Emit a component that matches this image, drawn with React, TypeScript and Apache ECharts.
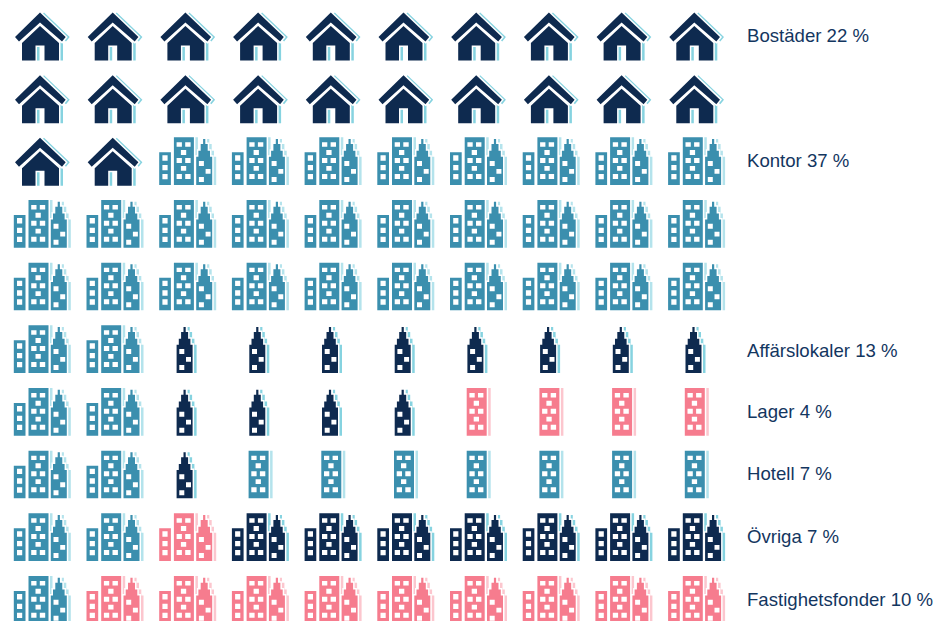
import React, { useEffect, useRef } from "react";
import * as echarts from "echarts";

// Category labels shown at the right, one per row ("" = no label)
const rowLabels = [
  "Bostäder 22 %",
  "",
  "Kontor 37 %",
  "",
  "",
  "Affärslokaler 13 %",
  "Lager 4 %",
  "Hotell 7 %",
  "Övriga 7 %",
  "Fastighetsfonder 10 %",
];

// One letter per icon: B Bostäder, K Kontor, A Affärslokaler, L Lager, H Hotell, O Övriga, F Fastighetsfonder
const rowIcons = [
  "BBBBBBBBBB",
  "BBBBBBBBBB",
  "BBKKKKKKKK",
  "KKKKKKKKKK",
  "KKKKKKKKKK",
  "KKAAAAAAAA",
  "KKAAAALLLL",
  "KKAHHHHHHH",
  "KKFOOOOOOO",
  "KFFFFFFFFF",
];

const categories = [
  { key: "B", name: "Bostäder", icon: "house", fill: "#0e2a4f", shade: "#86d3e0" },
  { key: "K", name: "Kontor", icon: "city", fill: "#3b8fae", shade: "#b4e3ec" },
  { key: "A", name: "Affärslokaler", icon: "tower", fill: "#0e2a4f", shade: "#86d3e0" },
  { key: "L", name: "Lager", icon: "block", fill: "#f67c8e", shade: "#fcc6ce" },
  { key: "H", name: "Hotell", icon: "block", fill: "#3b8fae", shade: "#b4e3ec" },
  { key: "O", name: "Övriga", icon: "city", fill: "#0e2a4f", shade: "#86d3e0" },
  { key: "F", name: "Fastighetsfonder", icon: "city", fill: "#f67c8e", shade: "#fcc6ce" },
];

const rect = (x0: number, y0: number, x1: number, y1: number) =>
  `M${x0},${y0}L${x1},${y0}L${x1},${y1}L${x0},${y1}Z`;

const towerBody = (d: number) =>
  `M${d + 6.9},-21.3L${d + 9.1},-21.3L${d + 9.1},-16.3L${d + 11.5},-16.3L${d + 11.5},-9.6L${d + 13.8},-9.6L${d + 13.8},-3.6L${d + 16},-3.6L${d + 16},24.7L${d},24.7L${d},-3.6L${d + 2.2},-3.6L${d + 2.2},-9.6L${d + 4.5},-9.6L${d + 4.5},-16.3L${d + 6.9},-16.3Z`;
const blockBody = (d: number) => rect(d, -23, d + 20, 24.7);
const towerWins = (d: number) =>
  rect(d + 2.7, 0.7, d + 7.7, 5.7) + rect(d + 9.4, 8.7, d + 14.4, 13.5) + rect(d + 2.7, 16.7, d + 7.7, 21.7);
const blockWins = (d: number) =>
  rect(d + 2.7, -18, d + 8, -13.6) + rect(d + 11.3, -18, d + 16.7, -13.6) +
  rect(d + 7, -10.3, d + 12.3, -5.3) +
  rect(d + 2.7, -2.3, d + 8, 2.7) + rect(d + 11.3, -2.3, d + 16.7, 2.7) +
  rect(d + 7, 5.7, d + 12.3, 10.4) +
  rect(d + 2.7, 13.7, d + 8, 18.7) + rect(d + 11.3, 13.7, d + 16.7, 18.7);

const bodies: Record<string, string> = {
  house:
    "M-1,-22.5L24.7,2L21,6.5L-1,-12.5L-22,6.5L-26,2Z" +
    "M-1,-9L18,8L18,25.5L3.5,25.5L3.5,10.5L-5.5,10.5L-5.5,25.5L-19,25.5L-19,8Z",
  city: rect(-27.2, -8, -15.5, 24.7) + blockBody(-12.5) + towerBody(9.8),
  tower: towerBody(-9.8),
  block: blockBody(-10.5),
};
const windows: Record<string, string> = {
  city:
    rect(-24, -5, -18.8, 0.4) + rect(-24, 4.7, -18.8, 10) + rect(-24, 13.7, -18.8, 19) +
    blockWins(-12.5) + towerWins(9.8),
  tower: towerWins(-9.8),
  block: blockWins(-10.5),
};

Object.keys(bodies).forEach((k) => {
  echarts.graphic.registerShape("body_" + k, echarts.graphic.extendPath(bodies[k], {}));
});
Object.keys(windows).forEach((k) => {
  echarts.graphic.registerShape("win_" + k, echarts.graphic.extendPath(windows[k], {}));
});

function seriesFor(cat: (typeof categories)[number]) {
  const data: number[][] = [];
  rowIcons.forEach((row, r) => {
    row.split("").forEach((c, col) => {
      if (c === cat.key) data.push([col, r]);
    });
  });
  return {
    type: "custom",
    name: cat.name,
    silent: true,
    clip: false,
    encode: { x: 0, y: 1 },
    data,
    renderItem: (_p: any, api: any) => {
      const [x, y] = api.coord([api.value(0), api.value(1)]);
      const children: any[] = [
        { type: "body_" + cat.icon, x: 4, y: 0, style: { fill: cat.shade } },
        {
          type: "body_" + cat.icon,
          style: { fill: "#ffffff", stroke: "#ffffff", lineWidth: 3, lineJoin: "miter" },
        },
        { type: "body_" + cat.icon, style: { fill: cat.fill } },
      ];
      if (windows[cat.icon]) {
        children.push({ type: "win_" + cat.icon, style: { fill: "#ffffff" } });
      }
      return { type: "group", x, y, children };
    },
  };
}

const labelColor = "#13365f";
const labelFont = "Liberation Sans";
const labelSize = 18.6;

export default function App() {
  const ref = useRef<HTMLDivElement>(null);
  useEffect(() => {
    const chart = echarts.init(ref.current!, null, { renderer: "svg" });
    chart.setOption({
      animation: false,
      backgroundColor: "#ffffff",
      grid: { left: 41, right: 241.7, top: 35, bottom: 22 },
      xAxis: { type: "value", min: 0, max: 9, show: false },
      yAxis: {
        type: "category",
        data: rowLabels,
        inverse: true,
        boundaryGap: false,
        position: "right",
        axisLine: { show: false },
        axisTick: { show: false },
        splitLine: { show: false },
        axisLabel: {
          show: true,
          interval: 0,
          margin: 51.7,
          color: labelColor,
          fontFamily: labelFont,
          fontSize: labelSize,
          formatter: (v: string) => (v.startsWith("Affär") ? `{low|${v}}` : v),
          rich: {
            low: {
              color: labelColor,
              fontFamily: labelFont,
              fontSize: labelSize,
              padding: [4, 0, 0, 0],
            },
          },
        },
      },
      series: categories.map(seriesFor),
    });
    return () => chart.dispose();
  }, []);
  return <div ref={ref} style={{ position: "fixed", left: 0, top: 0, width: 937, height: 621 }} />;
}
